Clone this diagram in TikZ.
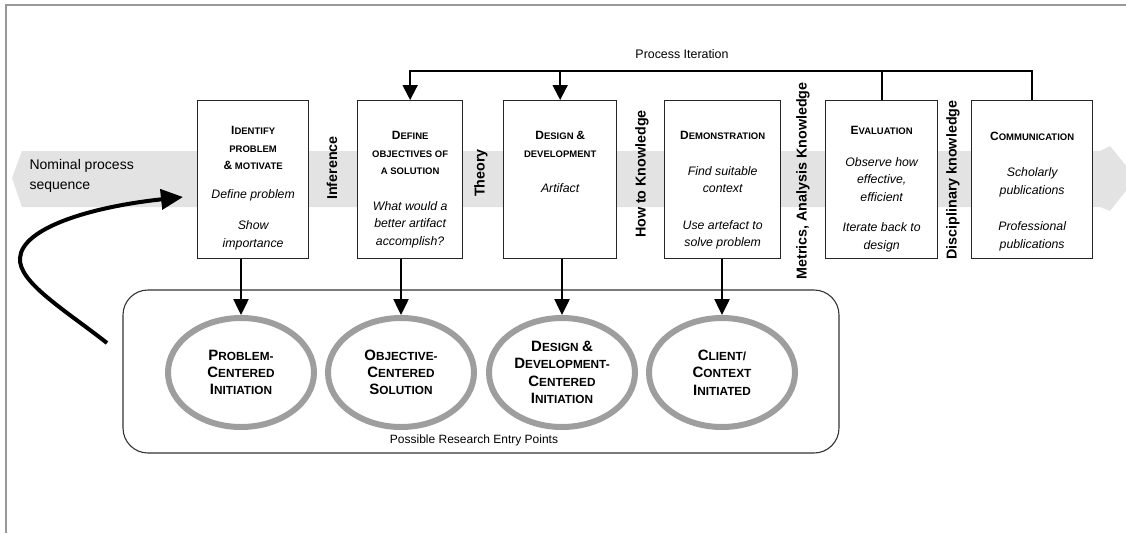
\documentclass[tikz,border=0pt]{standalone}
\usepackage{fontspec}
\setmainfont{Liberation Sans}
\usetikzlibrary{positioning}
\usetikzlibrary{shapes.geometric}
\usetikzlibrary{arrows.meta}

\newcommand{\hfont}{\fontsize{9.5}{17.5}\selectfont\bfseries}
\newcommand{\itfont}{\fontsize{12.3}{17.5}\selectfont\itshape}
\newcommand{\efont}{\fontsize{11.8}{17.3}\selectfont\bfseries}
\newcommand{\kfont}{\fontsize{14.3}{16}\selectfont\bfseries}
\newcommand{\hc}[1]{{\fontsize{12}{17.5}\selectfont #1}}
\newcommand{\ec}[1]{{\fontsize{15}{17.3}\selectfont #1}}
\newcommand{\stagetext}[3]{\parbox[t][158pt][t]{#1}{\centering\fontsize{12.3}{17.5}\selectfont\vspace*{#2}#3}}

\begin{document}
\begin{tikzpicture}[x=1pt,y=-1pt,
  stage/.style={draw=black!85,line width=1.3pt,fill=white,inner sep=0pt,anchor=north west},
  entry/.style={ellipse,draw=black!38,line width=6pt,minimum width=146pt,minimum height=109pt,inner sep=0pt,align=center,font=\efont},
  knowledge/.style={rotate=90,font=\kfont},
  down/.style={line width=2.5pt,-{Triangle[length=16pt,width=15pt]}},
  iter/.style={line width=2pt,-{Triangle[length=15pt,width=15pt]}}]

\useasboundingbox (0,0) rectangle (1126,533);
\draw[black!40,line width=2pt] (6,533) -- (6,5) -- (1126,5);

% nominal process band
\fill[black!11] (12,178) -- (22,151) -- (1100,151) -- (1110,146) -- (1136,178) -- (1110,211) -- (1100,207) -- (22,207) -- cycle;
\node[anchor=west,align=left,font=\fontsize{14}{20}\selectfont] (nominal) at (26,176) {Nominal process\\sequence};

% activities
\node[stage] (s1) at (197,100) {\stagetext{111pt}{26pt}{{\hfont\hc{I}DENTIFY\\PROBLEM\\\hc{\&} MOTIVATE}\\[11pt]{\itfont Define problem}\\[14pt]{\itfont Show\\importance}}};
\node[stage] (s2) at (357,100) {\stagetext{105pt}{31pt}{{\hfont\hc{D}EFINE\\OBJECTIVES OF\\A SOLUTION}\\[18pt]{\itfont What would a\\better artifact\\accomplish?}}};
\node[stage] (s3) at (503,100) {\stagetext{113pt}{31pt}{{\hfont\hc{D}ESIGN \hc{\&}\\DEVELOPMENT}\\[18pt]{\itfont Artifact}}};
\node[stage] (s4) at (664,100) {\stagetext{116pt}{31pt}{{\hfont\hc{D}EMONSTRATION}\\[18pt]{\itfont Find suitable\\context}\\[19pt]{\itfont Use artefact to\\solve problem}}};
\node[stage] (s5) at (825,100) {\stagetext{112pt}{26pt}{{\hfont\hc{E}VALUATION}\\[14pt]{\itfont Observe how\\effective,\\efficient}\\[13pt]{\itfont Iterate back to\\design}}};
\node[stage] (s6) at (971,100) {\stagetext{121pt}{31pt}{{\hfont\hc{C}OMMUNICATION}\\[19pt]{\itfont Scholarly\\publications}\\[19pt]{\itfont Professional\\publications}}};

% knowledge between activities
\node[knowledge] (inference) at (332,168) {Inference};
\node[knowledge] (theory) at (481,173) {Theory};
\node[knowledge] (howto) at (642,174) {How to Knowledge};
\node[knowledge] (metrics) at (803,181) {Metrics, Analysis Knowledge};
\node[knowledge] (disciplinary) at (953,180) {Disciplinary knowledge};

% process iteration
\coordinate (iter) at (682,71);
\node[font=\fontsize{12.4}{14}\selectfont] (iterlabel) at (682,54) {Process Iteration};
\draw[iter] (s6.north) -- (s6.north |- iter) -- (s2.north |- iter) -- (s2.north);
\draw[iter] (s3.north |- iter) -- (s3.north);
\draw[line width=2pt] (s5.north) -- (s5.north |- iter);

% entry points
\node[draw=black!80,line width=1.1pt,rounded corners=25pt,minimum width=716pt,minimum height=163pt] (entrybox) at (481,371.5) {};
\node[font=\fontsize{12}{14}\selectfont] (entrylabel) at (474,440) {Possible Research Entry Points};

\node[entry] (e1) at (241,372.5) {\ec{P}ROBLEM-\\\ec{C}ENTERED\\\ec{I}NITIATION};
\node[entry] (e2) at (401,372.5) {\ec{O}BJECTIVE-\\\ec{C}ENTERED\\\ec{S}OLUTION};
\node[entry] (e3) at (562,372.5) {\ec{D}ESIGN \ec{\&}\\\ec{D}EVELOPMENT-\\\ec{C}ENTERED\\\ec{I}NITIATION};
\node[entry] (e4) at (722,372.5) {\ec{C}LIENT/\\\ec{C}ONTEXT\\\ec{I}NITIATED};

\draw[down] (s1.south -| e1.north) -- (e1.north);
\draw[down] (s2.south -| e2.north) -- (e2.north);
\draw[down] (s3.south -| e3.north) -- (e3.north);
\draw[down] (s4.south -| e4.north) -- (e4.north);

% entry loop
\coordinate (loopstart) at (107,343);
\coordinate (loopend) at (183,197);
\draw[line width=4pt,-{Triangle[length=22pt,width=20pt]}] (loopstart) .. controls (65,310) and (18,282) .. (20,258) .. controls (22,228) and (90,207) .. (loopend);
\end{tikzpicture}
\end{document}
